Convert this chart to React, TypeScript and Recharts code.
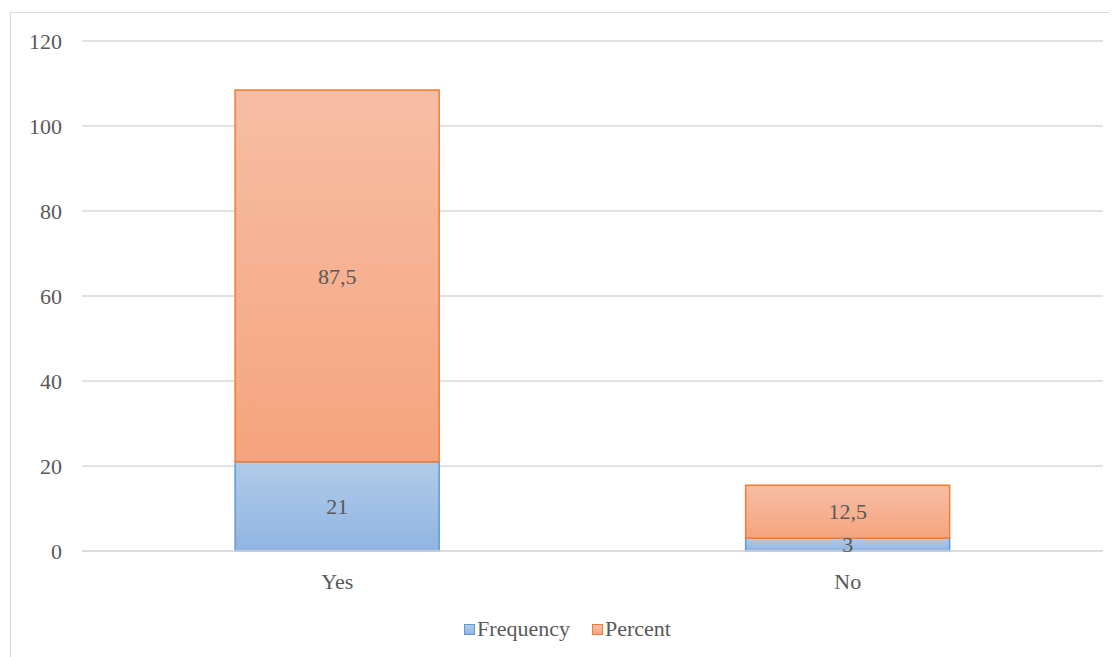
import React from "react";
import { BarChart, Bar, XAxis, YAxis, CartesianGrid, Legend, LabelList } from "recharts";

const categories = ["Yes", "No"];
const frequency = [21, 3];
const percent = [87.5, 12.5];
const yTicks = [0, 20, 40, 60, 80, 100, 120];

const data = categories.map((c, i) => ({ name: c, Frequency: frequency[i], Percent: percent[i] }));

const FONT = "'Liberation Serif', Tinos, 'Times New Roman', Times, 'DejaVu Serif', serif";
const TEXT = "#595959";

const fmt = (v: any) => String(v).replace(".", ",");

const LegendContent = () => (
  <div style={{ display: "flex", justifyContent: "center", alignItems: "center", fontFamily: FONT, fontSize: 22, color: TEXT, height: 40 }}>
    <div style={{ display: "flex", alignItems: "center", marginRight: 22 }}>
      <div style={{ width: 9, height: 9, border: "1px solid #5b9bd5", background: "linear-gradient(#b1cbe9, #92b7e3)", marginRight: 2 }} />
      <span>Frequency</span>
    </div>
    <div style={{ display: "flex", alignItems: "center" }}>
      <div style={{ width: 9, height: 9, border: "1px solid #ed7d31", background: "linear-gradient(#f7bda4, #f5a57f)", marginRight: 2 }} />
      <span>Percent</span>
    </div>
  </div>
);

export default function App() {
  return (
    <div style={{ marginLeft: 2, marginTop: 4, width: 1120, height: 660, border: "1px solid #d9d9d9", background: "#fff", fontFamily: FONT }}>
      <BarChart
        width={1118}
        height={646}
        data={data}
        barCategoryGap="30%"
        margin={{ top: 28, right: 26, left: 21, bottom: 10 }}
        style={{ fontFamily: FONT }}
      >
        <defs>
          <linearGradient id="gBlue" x1="0" y1="0" x2="0" y2="1">
            <stop offset="0%" stopColor="#b1cbe9" />
            <stop offset="100%" stopColor="#90b5e2" />
          </linearGradient>
          <linearGradient id="gOrange" x1="0" y1="0" x2="0" y2="1">
            <stop offset="0%" stopColor="#f7bea5" />
            <stop offset="100%" stopColor="#f5a47e" />
          </linearGradient>
        </defs>
        <CartesianGrid vertical={false} stroke="#d9d9d9" strokeWidth={1.3} />
        <XAxis
          dataKey="name"
          height={58}
          tickLine={false}
          axisLine={{ stroke: "#d9d9d9", strokeWidth: 1.3 }}
          tick={{ fill: TEXT, fontFamily: FONT, fontSize: 22 }}
          tickMargin={16}
        />
        <YAxis
          width={50}
          domain={[0, 120]}
          ticks={yTicks}
          interval={0}
          axisLine={false}
          tickLine={false}
          tick={{ fill: TEXT, fontFamily: FONT, fontSize: 22 }}
          tickMargin={14}
        />
        <Legend verticalAlign="bottom" height={40} content={<LegendContent />} />
        <Bar dataKey="Frequency" stackId="a" fill="url(#gBlue)" stroke="#5b9bd5" strokeWidth={1.5} isAnimationActive={false}>
          <LabelList dataKey="Frequency" position="center" formatter={fmt} fill={TEXT} fontFamily={FONT} fontSize={22} />
        </Bar>
        <Bar dataKey="Percent" stackId="a" fill="url(#gOrange)" stroke="#ed7d31" strokeWidth={1.5} isAnimationActive={false}>
          <LabelList dataKey="Percent" position="center" formatter={fmt} fill={TEXT} fontFamily={FONT} fontSize={22} />
        </Bar>
      </BarChart>
    </div>
  );
}
